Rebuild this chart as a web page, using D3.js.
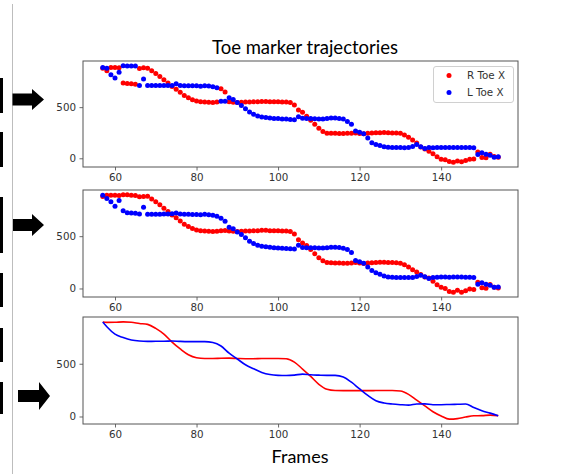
<!DOCTYPE html>
<html>
<head>
<meta charset="utf-8">
<script src="https://cdn.jsdelivr.net/npm/d3@7"></script>
<style>
  html, body { margin: 0; padding: 0; background: #fff; }
  svg { display: block; }
</style>
</head>
<body>
<script>
// ---------------- DATA ----------------
const frames = d3.range(57, 155); // 57..154

// Panel 1: raw trajectories (with marker swaps)
const rawR = [880,856,888,888,885,737,730,728,725,878,885,880,856,830,800,768,735,703,675,645,
  615,592,573,560,552,550,548,545,550,680,647,552,548,545,548,550,550,552,553,556,
  556,553,552,552,550,550,545,520,471,449,410,372,332,293,262,246,244,244,243,243,
  245,245,248,243,240,245,247,249,250,251,250,248,247,245,228,205,178,150,110,90,
  68,45,15,-10,-15,-32,-38,-26,-35,-22,-10,-8,62,8,5,40,18,10];
const rawL = [888,880,817,785,840,904,902,902,902,711,776,711,711,711,711,712,712,712,728,712,
  710,710,708,708,705,710,706,700,689,558,558,591,574,545,516,484,452,430,414,404,
  398,395,389,388,385,383,380,378,407,392,389,390,386,384,384,388,393,393,390,383,
  360,333,268,255,240,199,151,135,125,112,108,106,106,105,104,106,115,135,112,95,
  105,104,105,105,106,106,105,105,106,106,105,104,38,55,40,30,10,14];

// Panel 2: cleaned trajectories
const cleanR = [880,892,892,892,888,895,895,892,888,878,880,882,856,830,800,768,735,703,675,645,
  615,592,573,560,552,550,548,545,548,553,555,550,548,545,548,550,550,552,553,556,
  556,553,552,552,550,550,545,522,465,435,410,372,332,293,265,248,245,243,243,242,
  242,244,248,243,238,244,246,248,250,250,248,248,246,240,228,205,180,158,134,110,
  100,70,35,12,0,-30,-35,-18,-35,-22,-5,-10,60,8,3,38,12,5];
const cleanL = [892,860,828,787,841,742,725,722,720,712,777,710,710,710,710,712,712,715,722,712,
  710,710,708,708,705,710,706,700,690,672,643,585,570,541,516,484,452,430,414,404,
  398,395,389,388,385,383,380,378,414,392,389,390,389,388,386,390,395,395,392,385,
  372,345,268,255,240,205,172,150,135,120,110,108,106,106,105,104,106,115,127,112,
  95,105,108,110,110,108,110,110,110,108,108,105,40,55,40,30,12,15];

// Panel 3: smoothed trajectories (read at key frames)
const smoothFrames = [57,58,60,62,64,66,68,70,72,74,76,78,80,82,84,86,88,90,92,94,96,98,100,102,104,
  106,108,110,112,114,116,118,120,122,124,126,128,130,132,134,136,138,140,142,144,146,148,150,152,154];
const smoothR = [895,892,893,897,893,882,873,835,780,705,640,585,557,550,550,552,553,550,548,548,550,550,550,547,515,
  450,380,305,258,246,245,245,245,245,246,247,247,242,210,155,100,45,5,-25,-20,-5,7,8,13,8];
const smoothL = [895,850,780,748,725,715,712,713,713,716,712,710,710,710,702,668,600,545,490,452,418,398,390,388,392,
  402,395,392,390,390,375,325,261,200,150,128,118,112,108,118,120,112,112,114,116,118,85,55,32,7];

const xTicks = [60, 80, 100, 120, 140];
const yTicks = [0, 500];
const seriesNames = ["R Toe X", "L Toe X"];
const seriesColors = ["#ff0000", "#0000ff"];
const titleText = "Toe marker trajectories";
const xLabel = "Frames";

// ---------------- LAYOUT ----------------
const W = 562, H = 474;
const left = 83, right = 518;
const panels = [
  {top: 61, bottom: 167, type: "dots", R: rawR, L: rawL, fr: frames, legend: true},
  {top: 190, bottom: 297, type: "dots", R: cleanR, L: cleanL, fr: frames},
  {top: 317, bottom: 424, type: "line", R: smoothR, L: smoothL, fr: smoothFrames}
];

const svg = d3.select("body").append("svg").attr("width", W).attr("height", H);
svg.append("rect").attr("width", W).attr("height", H).attr("fill", "#fff");

// Left decorations: gray divider, black bars, arrows
svg.append("line").attr("x1", 12.5).attr("x2", 12.5).attr("y1", 4).attr("y2", H)
  .attr("stroke", "#bdbdbd").attr("stroke-width", 1);
const bars = [[78,113],[132,167],[197,253],[273,307],[328,362],[382,414]];
bars.forEach(b => svg.append("rect").attr("x", 0).attr("y", b[0]).attr("width", 3)
  .attr("height", b[1]-b[0]).attr("fill", "#000"));
function arrow(x0, x1, xh, cy, bh, hh) {
  const p = `M${x0},${cy-bh/2} L${xh},${cy-bh/2} L${xh},${cy-hh/2} L${x1},${cy} L${xh},${cy+hh/2} L${xh},${cy+bh/2} L${x0},${cy+bh/2} Z`;
  svg.append("path").attr("d", p).attr("fill", "#000");
}
arrow(12.5, 44, 32, 99.5, 12, 21);
arrow(13, 44, 32, 225, 12, 22);
arrow(18, 50, 39, 396, 12, 28);

const x = d3.scaleLinear().domain([52.15, 158.85]).range([left, right]);

panels.forEach((p, i) => {
  const all = p.R.concat(p.L);
  const mn = d3.min(all), mx = d3.max(all), pad = (mx - mn) * 0.05;
  const y = d3.scaleLinear().domain([mn - pad, mx + pad]).range([p.bottom, p.top]);
  const g = svg.append("g");

  const clipId = "clip" + i;
  svg.append("clipPath").attr("id", clipId).append("rect")
    .attr("x", left).attr("y", p.top).attr("width", right-left).attr("height", p.bottom-p.top);

  const plot = g.append("g").attr("clip-path", `url(#${clipId})`);
  [p.R, p.L].forEach((vals, si) => {
    if (p.type === "dots") {
      plot.selectAll(null).data(vals).enter().append("circle")
        .attr("cx", (d, j) => x(p.fr[j])).attr("cy", d => y(d))
        .attr("r", 2.5).attr("fill", seriesColors[si]);
    } else {
      const line = d3.line().x((d, j) => x(p.fr[j])).y(d => y(d)).curve(d3.curveMonotoneX);
      plot.append("path").attr("d", line(vals)).attr("fill", "none")
        .attr("stroke", seriesColors[si]).attr("stroke-width", 1.6);
    }
  });

  // axes
  const xAxis = d3.axisBottom(x).tickValues(xTicks).tickSize(3.5).tickPadding(3.5);
  const yAxis = d3.axisLeft(y).tickValues(yTicks).tickSize(3.5).tickPadding(3.5);
  const gx = g.append("g").attr("transform", `translate(0,${p.bottom})`).call(xAxis);
  const gy = g.append("g").attr("transform", `translate(${left},0)`).call(yAxis);
  [gx, gy].forEach(a => {
    a.select(".domain").remove();
    a.selectAll("line").attr("stroke", "#444").attr("stroke-width", 0.8);
    a.selectAll("text").attr("font-family", "DejaVu Sans").attr("font-size", 10.3).attr("fill", "#333");
  });
  g.append("rect").attr("x", left).attr("y", p.top).attr("width", right-left).attr("height", p.bottom-p.top)
    .attr("fill", "none").attr("stroke", "#555").attr("stroke-width", 1);

  if (p.legend) {
    const lg = g.append("g");
    lg.append("rect").attr("x", 433.5).attr("y", 66.5).attr("width", 80).attr("height", 36)
      .attr("rx", 2.5).attr("fill", "#fff").attr("fill-opacity", 0.8).attr("stroke", "#d0d0d0").attr("stroke-width", 1);
    seriesNames.forEach((n, k) => {
      const cy = 75.5 + k * 17;
      lg.append("circle").attr("cx", 449).attr("cy", cy).attr("r", 2.5).attr("fill", seriesColors[k]);
      lg.append("text").attr("x", 467).attr("y", cy).attr("dy", "0.35em")
        .attr("font-family", "DejaVu Sans").attr("font-size", 10.3).attr("fill", "#333").text(n);
    });
  }
});

svg.append("text").attr("x", 305).attr("y", 54).attr("text-anchor", "middle")
  .attr("font-family", "Lato, 'Open Sans', sans-serif").attr("font-size", 18.5).attr("fill", "#000").text(titleText);
svg.append("text").attr("x", 300).attr("y", 463).attr("text-anchor", "middle")
  .attr("font-family", "Lato, 'Open Sans', sans-serif").attr("font-size", 18).attr("fill", "#000").text(xLabel);
</script>
</body>
</html>
